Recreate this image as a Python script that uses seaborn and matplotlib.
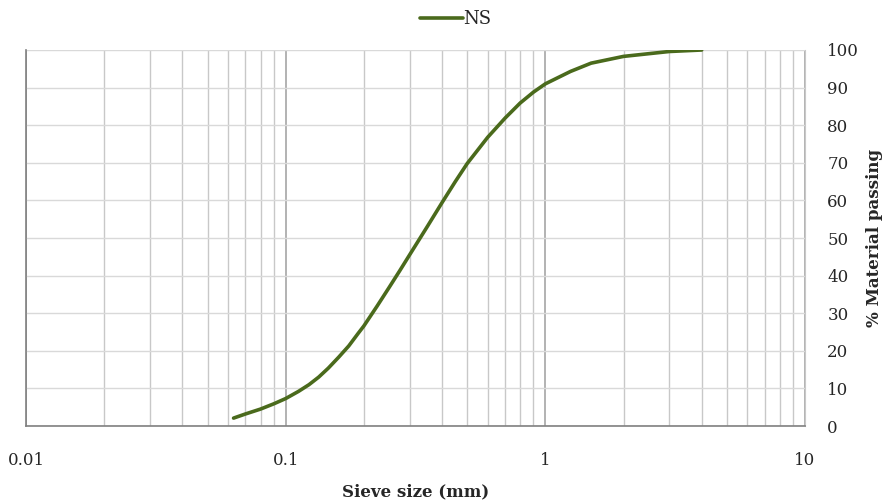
import numpy as np
import pandas as pd
import seaborn as sns
import matplotlib.pyplot as plt
from matplotlib.ticker import FixedLocator, NullFormatter

# Sieve analysis data
sieve_mm = [0.063, 0.07, 0.08, 0.09, 0.1, 0.112, 0.123, 0.134, 0.146, 0.16, 0.175, 0.19, 0.2,
            0.225, 0.25, 0.275, 0.3, 0.35, 0.4, 0.45, 0.5, 0.6, 0.7, 0.8, 0.9, 1.0,
            1.25, 1.5, 2.0, 3.0, 4.0]
passing = [2.1, 3.2, 4.5, 5.9, 7.3, 9.2, 11.0, 13.0, 15.4, 18.3, 21.3, 24.6, 26.6,
           31.9, 36.8, 41.3, 45.5, 52.9, 59.4, 65.0, 69.8, 76.8, 81.9, 85.9, 88.8, 91.0,
           94.3, 96.5, 98.3, 99.6, 100.0]
series_name = "NS"

df = pd.DataFrame({"size": sieve_mm, "passing": passing, "series": series_name})

sns.set_style("white")
plt.rcParams['font.family'] = ['DejaVu Serif']

fig = plt.figure(figsize=(8.87, 5.01), dpi=100)
ax = fig.add_axes([0.0293, 0.1497, 0.8783, 0.7505])

sns.lineplot(data=df, x="size", y="passing", hue="series", palette=["#4a6a1c"],
             linewidth=2.6, ax=ax, sort=True)
ax.set_xscale("log")
ax.set_xlim(0.01, 10)
ax.set_ylim(0, 100)

# gridlines
major = [0.01, 0.1, 1, 10]
minor = [m * d for d in [0.01, 0.1, 1] for m in range(2, 10)]
ax.xaxis.set_major_locator(FixedLocator(major))
ax.xaxis.set_minor_locator(FixedLocator(minor))
ax.xaxis.set_minor_formatter(NullFormatter())
ax.set_xticklabels(["0.01", "0.1", "1", "10"])
ax.grid(True, which="minor", axis="x", color="#c8c8c8", linewidth=1.0)
ax.grid(True, which="major", axis="x", color="#a6a6a6", linewidth=1.2)
ax.set_yticks(range(0, 101, 10))
ax.grid(True, which="major", axis="y", color="#d9d9d9", linewidth=1.0)
ax.set_axisbelow(True)

ax.yaxis.tick_right()
ax.yaxis.set_label_position("right")
ax.tick_params(axis="y", length=0, pad=16, labelsize=12)
ax.tick_params(axis="x", which="major", length=5, color="#808080", direction="out", labelsize=12, pad=14)
ax.tick_params(axis="x", which="minor", length=0)
for lbl in ax.get_yticklabels():
    lbl.set_horizontalalignment("left")

ax.spines["top"].set_visible(False)
ax.spines["right"].set_color("#c8c8c8")
ax.spines["left"].set_color("#808080")
ax.spines["bottom"].set_color("#808080")
ax.spines["left"].set_linewidth(1.2)
ax.spines["bottom"].set_linewidth(1.2)

ax.set_xlabel("Sieve size (mm)", fontsize=12, fontweight="bold", labelpad=10)
ax.set_ylabel("% Material passing", fontsize=12, fontweight="bold", labelpad=5, rotation=90)

ax.legend(loc="upper center", bbox_to_anchor=(0.551, 1.125), frameon=False, fontsize=13,
          handlelength=2.4, handletextpad=0.0, borderaxespad=0)

fig.savefig("out.png", dpi=100)
